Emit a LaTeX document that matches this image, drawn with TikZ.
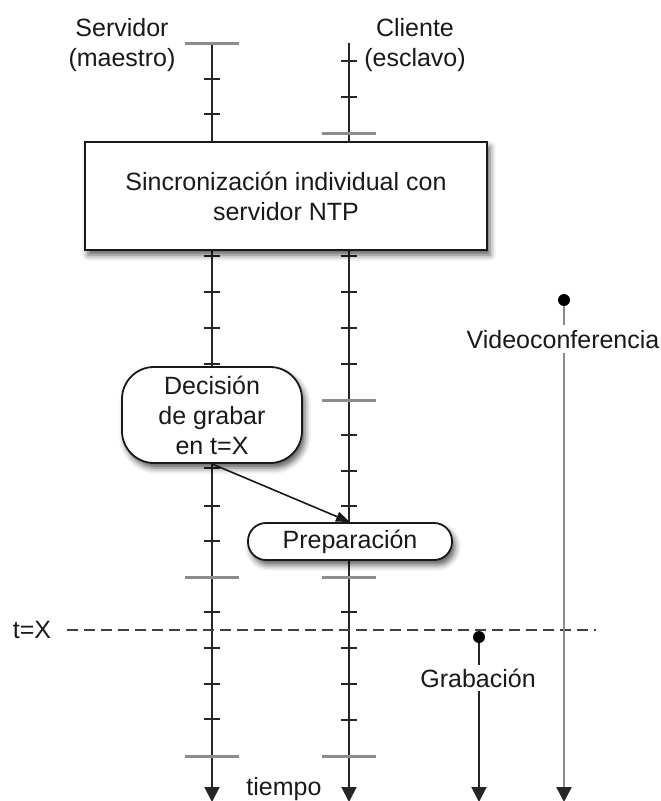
\documentclass[tikz,border=0pt]{standalone}
\usepackage{fontspec}
\setmainfont{Liberation Sans}
\usetikzlibrary{arrows.meta,shadows.blur}

\begin{document}
\begin{tikzpicture}[x=1pt,y=-1pt,
  every node/.style={font=\fontsize{25}{30}\selectfont, text=black!90},
  txt/.style={inner sep=0pt, anchor=base},
  evlabel/.style={anchor=base, text height=18pt, text depth=0pt, inner sep=5pt},
  timeline/.style={line width=2pt, draw=black!85,
    -{Triangle[length=15pt,width=15pt,color=black!85]}},
  tickmark/.style={line width=2pt, draw=black!85},
  barmark/.style={line width=3pt, draw=black!45},
  softshadow/.style={blur shadow={shadow xshift=3pt, shadow yshift=-5pt,
    shadow blur radius=6pt, shadow opacity=65}},
  procbox/.style={draw=black!90, line width=1.8pt, fill=white, softshadow,
    align=center, inner sep=0pt},
  dotmark/.style={circle, fill=black, inner sep=0pt, minimum size=12pt},
]
\useasboundingbox (0,0) rectangle (661,801);

% ---- column headers
\node[txt] (srv1) at (122,36) {Servidor};
\node[txt] (srv2) at (122,66) {(maestro)};
\node[txt] (cli1) at (415,36) {Cliente};
\node[txt] (cli2) at (415,66) {(esclavo)};

% ---- timelines of server and client
\coordinate (s-top) at (212,43);
\coordinate (s-end) at (212,802);
\coordinate (c-top) at (349,43);
\coordinate (c-end) at (349,802);
\draw[timeline] (s-top) -- (s-end);
\draw[timeline] (c-top) -- (c-end);

% clock ticks
\foreach \y in {79,114,256,292,328,364,468,506,541,612,648,684,719}
  \draw[tickmark] (204,\y) -- (220,\y);
\foreach \y in {43,577,756}
  \draw[barmark] (185,\y) -- (239,\y);
\foreach \y in {61,97,256,292,328,364,435,471,506,612,648,684,720}
  \draw[tickmark] (341,\y) -- (357,\y);
\foreach \y in {133,400,577,756}
  \draw[barmark] (322,\y) -- (376,\y);

% ---- process boxes
\node[procbox, minimum width=402pt, minimum height=108pt] (sync) at (286,196)
  {Sincronización individual con\\servidor NTP};
\node[procbox, rounded corners=32pt, minimum width=180pt, minimum height=96pt]
  (dec) at (212,415) {Decisión\\de grabar\\en t=X};
\node[procbox, rounded corners=18pt, minimum width=204pt, minimum height=37pt]
  (prep) at (350,541.5) {Preparación};

\draw[line width=1.6pt, black!90, -{Triangle[length=14pt,width=10pt]}]
  (dec.south) -- (prep.north);

% ---- start instant of the recording
\node[txt] (tx) at (32,638) {t=X};
\coordinate (dash-l) at (67,630);
\coordinate (dash-r) at (596,630);
\draw[line width=2pt, black!75, dash pattern=on 11pt off 6pt] (dash-l) -- (dash-r);

% ---- videoconference
\node[dotmark] (vc-dot) at (564,300) {};
\node[evlabel] (vc) at (563,348) {Videoconferencia};
\coordinate (vc-end) at (564,802);
\draw[line width=2.5pt, black!45] (vc-dot) -- (vc-dot |- vc.north);
\draw[line width=2.5pt, black!45, -{Triangle[length=15pt,width=15pt,color=black!85]}]
  (vc-dot |- vc.south) -- (vc-end);

% ---- recording
\node[dotmark] (gr-dot) at (479,637) {};
\node[evlabel, inner sep=4pt] (gr) at (478,687) {Grabación};
\coordinate (gr-end) at (479,802);
\draw[line width=2pt, black!85] (gr-dot) -- (gr-dot |- gr.north);
\draw[timeline] (gr-dot |- gr.south) -- (gr-end);

% ---- time axis label
\node[txt] (time) at (284,795) {tiempo};
\end{tikzpicture}
\end{document}
